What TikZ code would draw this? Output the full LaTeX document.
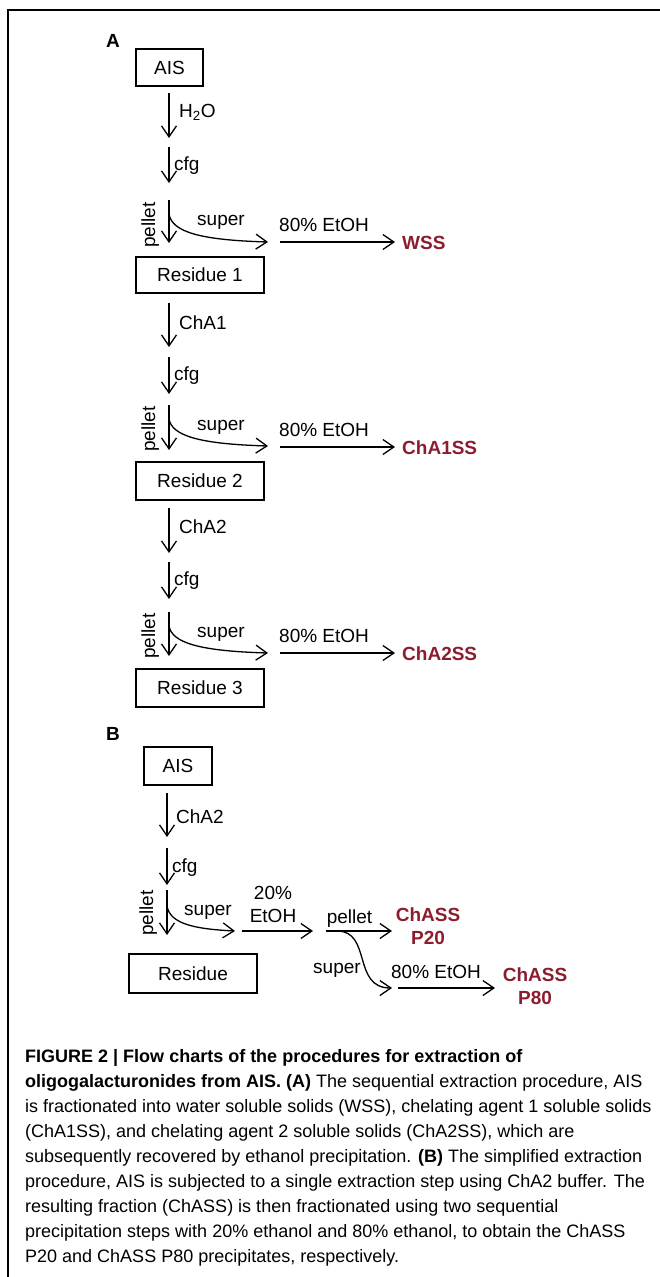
\documentclass[tikz,border=0pt]{standalone}
\usepackage{fontspec}
\setmainfont{Liberation Sans}
\newfontfamily\capfont{Liberation Sans}
\usepackage{xcolor}
\usetikzlibrary{arrows.meta}

\definecolor{fracred}{HTML}{8C1D2E}

\tikzset{
  flow/.style={line width=1.3pt, -{Straight Barb[length=11pt,width=15pt,line width=1.3pt]}},
  box/.style={draw, line width=1.4pt, minimum height=37pt, inner sep=0pt, font=\fontsize{19}{22}\selectfont},
  lbl/.style={inner sep=0pt, font=\fontsize{19}{22}\selectfont},
  frac/.style={inner sep=0pt, align=center, text=fracred, font=\fontsize{19}{23}\selectfont\bfseries},
  panel/.style={inner sep=0pt, font=\fontsize{19}{22}\selectfont\bfseries},
}

\begin{document}
\begin{tikzpicture}[x=1pt,y=-1pt]
\useasboundingbox (0,0) rectangle (660,1277);
\draw[line width=2pt] (7.5,1290) -- (7.5,9.5) -- (670,9.5);

% (A) sequential extraction
\node[panel] (labA) at (113,41) {A};
\node[box, minimum width=67pt] (ais1) at (169.5,67.5) {AIS};

% step 1: water
\coordinate (add1) at (169,93);  \coordinate (add1e) at (169,138);
\coordinate (cfg1) at (169,147); \coordinate (cfg1e) at (169,183);
\coordinate (pel1) at (169,200); \coordinate (pel1e) at (169,243);
\coordinate (sup1) at (169,214); \coordinate (sup1e) at (268,242);
\coordinate (eth1) at (280,242); \coordinate (eth1e) at (395,242);
\draw[flow] (add1) -- (add1e);
\node[lbl, anchor=base west] (h2o) at (179,117) {H\textsubscript{2}O};
\draw[flow] (cfg1) -- (cfg1e);
\node[lbl, anchor=base west] (cfgA1) at (174,170) {cfg};
\draw[flow] (pel1) -- (pel1e);
\node[lbl, rotate=90, anchor=base] (pelA1) at (155,225) {pellet};
\draw[flow] (sup1) .. controls (172,232) and (200,240) .. (sup1e);
\node[lbl, anchor=base] (supA1) at (221,225) {super};
\draw[flow] (eth1) -- (eth1e);
\node[lbl, anchor=base west] (etA1) at (279,231) {80\% EtOH};
\node[frac, anchor=base west] (wss) at (402,249) {WSS};
\node[box, minimum width=128pt, minimum height=36pt] (res1) at (200,275) {Residue 1};

% step 2: ChA1
\coordinate (add2) at (169,303); \coordinate (add2e) at (169,347);
\coordinate (cfg2) at (169,357); \coordinate (cfg2e) at (169,394);
\coordinate (pel2) at (169,405); \coordinate (pel2e) at (169,450);
\coordinate (sup2) at (169,419); \coordinate (sup2e) at (268,446);
\coordinate (eth2) at (280,447); \coordinate (eth2e) at (395,447);
\draw[flow] (add2) -- (add2e);
\node[lbl, anchor=base west] (cha1) at (179,329) {ChA1};
\draw[flow] (cfg2) -- (cfg2e);
\node[lbl, anchor=base west] (cfgA2) at (174,380) {cfg};
\draw[flow] (pel2) -- (pel2e);
\node[lbl, rotate=90, anchor=base] (pelA2) at (155,429) {pellet};
\draw[flow] (sup2) .. controls (172,436) and (200,444) .. (sup2e);
\node[lbl, anchor=base] (supA2) at (221,430) {super};
\draw[flow] (eth2) -- (eth2e);
\node[lbl, anchor=base west] (etA2) at (279,436) {80\% EtOH};
\node[frac, anchor=base west] (cha1ss) at (402,454) {ChA1SS};
\node[box, minimum width=128pt, minimum height=38pt] (res2) at (200,481) {Residue 2};

% step 3: ChA2
\coordinate (add3) at (169,508); \coordinate (add3e) at (169,553);
\coordinate (cfg3) at (169,562); \coordinate (cfg3e) at (169,599);
\coordinate (pel3) at (169,612); \coordinate (pel3e) at (169,656);
\coordinate (sup3) at (169,626); \coordinate (sup3e) at (268,653);
\coordinate (eth3) at (280,653); \coordinate (eth3e) at (395,653);
\draw[flow] (add3) -- (add3e);
\node[lbl, anchor=base west] (cha2) at (179,533) {ChA2};
\draw[flow] (cfg3) -- (cfg3e);
\node[lbl, anchor=base west] (cfgA3) at (174,585) {cfg};
\draw[flow] (pel3) -- (pel3e);
\node[lbl, rotate=90, anchor=base] (pelA3) at (155,636) {pellet};
\draw[flow] (sup3) .. controls (172,643) and (200,651) .. (sup3e);
\node[lbl, anchor=base] (supA3) at (221,637) {super};
\draw[flow] (eth3) -- (eth3e);
\node[lbl, anchor=base west] (etA3) at (279,642) {80\% EtOH};
\node[frac, anchor=base west] (cha2ss) at (402,660) {ChA2SS};
\node[box, minimum width=128pt, minimum height=38pt] (res3) at (200,688) {Residue 3};

% (B) simplified extraction
\node[panel] (labB) at (113,734) {B};
\node[box, minimum width=68pt, minimum height=38pt] (ais2) at (178,766) {AIS};
\coordinate (addB) at (167,793); \coordinate (addBe) at (167,837);
\coordinate (cfgB) at (167,848); \coordinate (cfgBe) at (167,885);
\coordinate (pelB) at (167,890); \coordinate (pelBe) at (167,935);
\coordinate (supB) at (167,906); \coordinate (supBe) at (235,931);
\coordinate (e20) at (242,931);  \coordinate (e20e) at (313,931);
\coordinate (p20) at (326,931);  \coordinate (p20e) at (392,931);
\coordinate (s20) at (337,931);  \coordinate (s20e) at (392,988);
\coordinate (e80) at (398,988);  \coordinate (e80e) at (495,988);
\draw[flow] (addB) -- (addBe);
\node[lbl, anchor=base west] (cha2B) at (176,823) {ChA2};
\draw[flow] (cfgB) -- (cfgBe);
\node[lbl, anchor=base west] (cfgB1) at (172,872) {cfg};
\draw[flow] (pelB) -- (pelBe);
\node[lbl, rotate=90, anchor=base] (pelB1) at (153,913) {pellet};
\draw[flow] (supB) .. controls (170,924) and (195,929) .. (supBe);
\node[lbl, anchor=base] (supB1) at (208,915) {super};
\draw[flow] (e20) -- (e20e);
\node[lbl, align=center, anchor=south, font=\fontsize{19}{23}\selectfont] (et20) at (273,923) {20\%\\EtOH};
\draw[flow] (p20) -- (p20e);
\node[lbl, anchor=base] (pelB2) at (349.5,923) {pellet};
\node[frac, anchor=south] (chp20) at (428,945) {ChASS\\P20};
\draw[flow] (s20) .. controls (372,931) and (352,988) .. (s20e);
\node[lbl, anchor=base] (supB2) at (337,973) {super};
\draw[flow] (e80) -- (e80e);
\node[lbl, anchor=base] (et80) at (436,978) {80\% EtOH};
\node[frac, anchor=south] (chp80) at (535,1005) {ChASS\\P80};
\node[box, minimum width=128pt, minimum height=39pt] (resB) at (193,973.5) {Residue};

% caption
\node[inner sep=0pt, align=left, anchor=north west,
      font=\capfont\fontsize{18}{25}\selectfont] (cap) at (25,1049) {%
\textbf{FIGURE 2 | Flow charts of the procedures for extraction of}\\
\textbf{oligogalacturonides from AIS. (A)} The sequential extraction procedure, AIS\\
is fractionated into water soluble solids (WSS), chelating agent 1 soluble solids\\
(ChA1SS), and chelating agent 2 soluble solids (ChA2SS), which are\\
subsequently recovered by ethanol precipitation. \textbf{(B)} The simplified extraction\\
procedure, AIS is subjected to a single extraction step using ChA2 buffer. The\\
resulting fraction (ChASS) is then fractionated using two sequential\\
precipitation steps with 20\% ethanol and 80\% ethanol, to obtain the ChASS\\
P20 and ChASS P80 precipitates, respectively.};
\end{tikzpicture}
\end{document}
